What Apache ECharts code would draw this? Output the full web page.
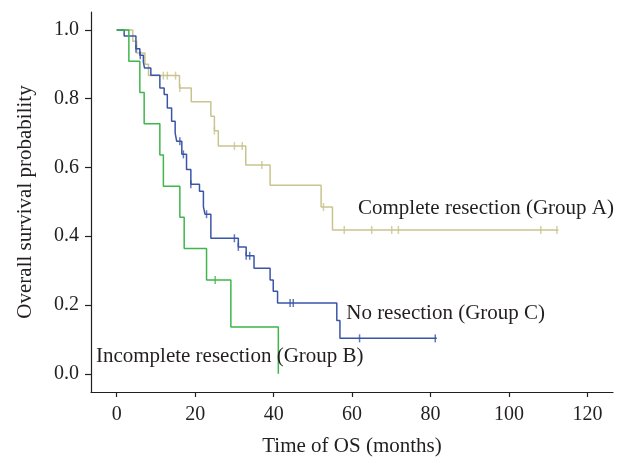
<!DOCTYPE html>
<html>
<head>
<meta charset="utf-8">
<script src="https://cdn.jsdelivr.net/npm/echarts@6/dist/echarts.min.js"></script>
<style>
html, body { margin: 0; padding: 0; background: #fff; }
#chart { width: 630px; height: 462px; }
</style>
</head>
<body>
<div id="chart"></div>
<script>
// tick labels
var xTicks = [0, 20, 40, 60, 80, 100, 120];
var yTicks = [0, 0.2, 0.4, 0.6, 0.8, 1.0];

// Kaplan-Meier steps: [month, survival after the step]
var groupA = [[0, 1], [4.1, 0.967], [5.1, 0.933], [7.2, 0.9], [8.1, 0.867], [16.0, 0.831], [19.0, 0.791],
	[24.0, 0.749], [24.9, 0.707], [25.9, 0.662], [32.9, 0.607], [39.1, 0.548], [52.1, 0.485], [55.0, 0.418], [112.6, 0.418]];
var censorA = [[11.9, 0.867], [12.9, 0.867], [15.0, 0.867], [16.1, 0.831], [24.9, 0.707], [30.0, 0.662], [32.0, 0.662],
	[37.0, 0.607], [52.7, 0.485], [58.0, 0.418], [65.0, 0.418], [70.1, 0.418], [71.8, 0.418], [108.1, 0.418], [112.2, 0.418]];

var groupB = [[0, 1], [3.1, 0.909], [5.9, 0.818], [7.0, 0.727], [11.0, 0.636], [11.9, 0.545], [16.1, 0.455],
	[17.2, 0.364], [22.9, 0.273], [29.1, 0.136], [41.2, 0]];
var censorB = [[25.1, 0.273]];

var groupC = [[0, 1], [1.9, 0.982], [4.9, 0.945], [5.9, 0.926], [6.8, 0.906], [7.1, 0.889], [8.7, 0.868], [11.0, 0.831],
	[12.1, 0.812], [12.9, 0.773], [14.0, 0.734], [14.9, 0.7], [15.3, 0.676], [16.6, 0.638], [17.8, 0.594], [18.9, 0.551],
	[21.1, 0.531], [22.1, 0.486], [22.5, 0.464], [24.0, 0.394], [31.0, 0.369], [33.0, 0.343], [35.0, 0.307],
	[39.1, 0.273], [39.9, 0.24], [41.0, 0.206], [56.1, 0.155], [56.9, 0.103], [81.6, 0.103]];
var censorC = [[4.9, 0.945], [6.0, 0.926], [16.1, 0.676], [17.0, 0.638], [18.9, 0.551], [22.9, 0.464], [30.0, 0.394],
	[31.0, 0.369], [33.0, 0.343], [33.9, 0.343], [44.2, 0.206], [45.0, 0.206], [61.9, 0.103], [81.2, 0.103]];

var colA = '#c9c48f', colB = '#3fb54b', colC = '#3a55a8';
var ink = '#231f20';
var serif = '"Liberation Serif", "DejaVu Serif", serif';

function curve(data, color) {
	return {
		type: 'line',
		step: 'end',
		data: data,
		showSymbol: false,
		lineStyle: { color: color, width: 1.5 },
		z: 2
	};
}

function ticks(data, color) {
	return {
		type: 'scatter',
		data: data,
		symbol: 'rect',
		symbolSize: [1.5, 8],
		itemStyle: { color: color },
		z: 3
	};
}

var chart = echarts.init(document.getElementById('chart'));
chart.setOption({
	animation: false,
	grid: { left: 91, right: 17, top: 12, bottom: 69 },
	xAxis: {
		type: 'value',
		min: -6.55,
		max: 126.5,
		name: 'Time of OS (months)',
		nameLocation: 'middle',
		nameGap: 44,
		nameTextStyle: { fontFamily: serif, fontSize: 21, color: ink },
		axisLine: { onZero: false, lineStyle: { color: ink, width: 1.2 } },
		axisTick: { customValues: xTicks, length: 5, lineStyle: { color: ink, width: 1.2 } },
		axisLabel: { customValues: xTicks, margin: 13, fontFamily: serif, fontSize: 20, color: ink },
		splitLine: { show: false }
	},
	yAxis: {
		type: 'value',
		min: -0.053,
		max: 1.052,
		name: 'Overall survival probability',
		nameLocation: 'middle',
		nameGap: 55,
		nameTextStyle: { fontFamily: serif, fontSize: 21, color: ink },
		axisLine: { show: true, onZero: false, lineStyle: { color: ink, width: 1.2 } },
		axisTick: { show: true, customValues: yTicks, length: 6, lineStyle: { color: ink, width: 1.2 } },
		axisLabel: {
			customValues: yTicks, margin: 12, fontFamily: serif, fontSize: 20, color: ink,
			formatter: function (v) { return v.toFixed(1); }
		},
		splitLine: { show: false }
	},
	series: [
		curve(groupA, colA), ticks(censorA, colA),
		curve(groupC, colC), ticks(censorC, colC),
		curve(groupB, colB), ticks(censorB, colB)
	]
});

function note(text, x, y) {
	var p = chart.convertToPixel({ gridIndex: 0 }, [x, y]);
	return {
		type: 'text', x: p[0], y: p[1], z: 10,
		style: { text: text, fontFamily: serif, fontSize: 21, fill: ink, verticalAlign: 'middle' }
	};
}

chart.setOption({
	graphic: [
		note('Complete resection (Group A)', 61.5, 0.481),
		note('No resection (Group C)', 58.5, 0.175),
		note('Incomplete resection (Group B)', -5.3, 0.05)
	]
});
</script>
</body>
</html>
